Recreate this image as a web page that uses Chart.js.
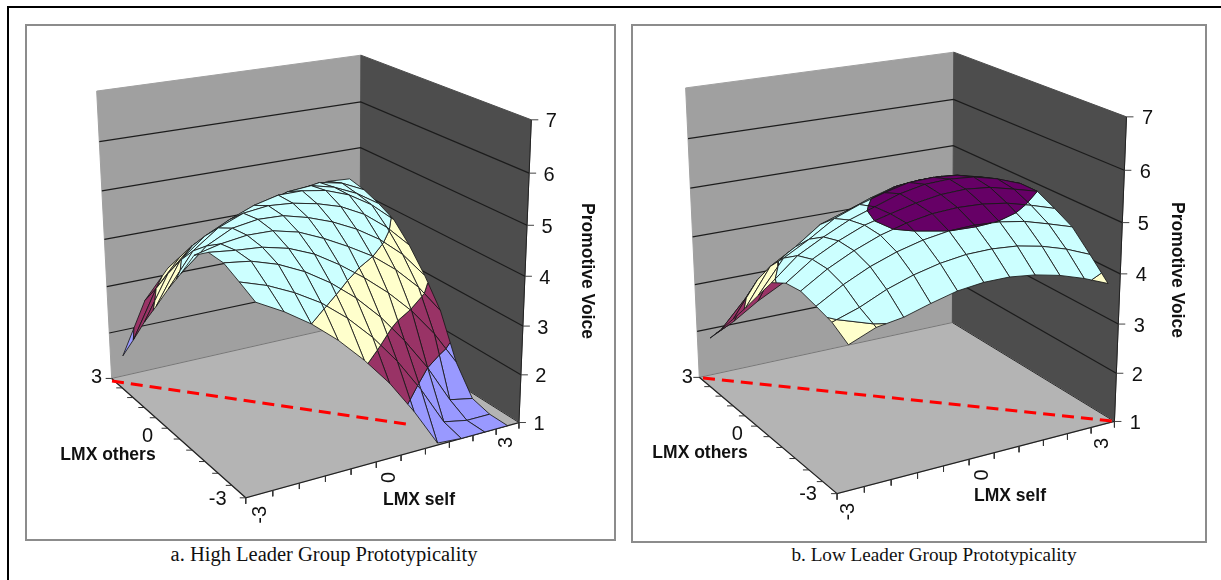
<!DOCTYPE html>
<html><head><meta charset="utf-8">
<script src="https://cdn.jsdelivr.net/npm/chart.js@4"></script>
<style>
html,body{margin:0;padding:0;background:#fff;width:1221px;height:580px;overflow:hidden}
#frame{position:absolute;left:7px;top:6px;width:1214px;height:574px;border-left:2px solid #000;border-top:2px solid #000;box-sizing:border-box}
.panel{position:absolute;box-sizing:border-box;border:2px solid #8c8c8c}
canvas{position:absolute}
.cap{position:absolute;font-family:"Liberation Serif",serif;color:#111;white-space:nowrap;transform:translateX(-50%);top:543px}
</style></head><body>
<div id="frame"></div>
<div class="panel" style="left:25px;top:24px;width:591px;height:517px"></div>
<div class="panel" style="left:631px;top:24px;width:576px;height:519px"></div>
<canvas id="ca" width="585" height="511" style="left:27px;top:26px"></canvas>
<canvas id="cb" width="570" height="513" style="left:633px;top:26px"></canvas>
<div class="cap" style="left:324px;font-size:20.5px">a. High Leader Group Prototypicality</div>
<div class="cap" style="left:934px;font-size:19.2px;top:544px">b. Low Leader Group Prototypicality</div>
<script>
const lmxSelf   = [-3,-2.4,-1.8,-1.2,-0.6,0,0.6,1.2,1.8,2.4,3];
const lmxOthers = [-3,-2.4,-1.8,-1.2,-0.6,0,0.6,1.2,1.8,2.4,3];
const voiceTicks = [1,2,3,4,5,6,7];
const lmxTickLabels = ['-3','0','3'];
const bandEdges  = [1,2,3,4,5,6];
const bandColors = ['#9999FF','#993366','#FFFFCC','#CCFFFF','#660066'];

// rows: LMX others -3 .. 3; columns: LMX self -3 .. 3
const voiceHigh = [
 [4.62,4.34,4.00,3.58,3.08,2.51,1.82,1.04,1.00,1.00,1.00],
 [4.79,4.62,4.38,4.08,3.68,3.19,2.60,1.90,1.10,1.00,1.00],
 [4.95,4.88,4.72,4.48,4.16,3.76,3.27,2.68,2.00,1.20,1.10],
 [4.96,4.90,4.86,4.74,4.53,4.22,3.86,3.45,2.97,2.38,1.66],
 [4.72,4.84,4.91,4.90,4.78,4.56,4.30,4.01,3.63,3.16,2.55],
 [4.18,4.62,4.87,4.95,4.93,4.80,4.62,4.38,4.07,3.66,3.11],
 [3.68,4.34,4.70,4.90,4.96,4.92,4.82,4.67,4.42,4.05,3.58],
 [3.13,3.96,4.36,4.60,4.80,4.92,4.92,4.84,4.66,4.36,3.95],
 [2.60,3.50,3.98,4.22,4.38,4.58,4.74,4.78,4.66,4.44,4.13],
 [2.01,3.00,3.56,3.85,4.04,4.20,4.40,4.52,4.60,4.50,4.27],
 [1.44,2.54,3.14,3.45,3.60,3.81,4.02,4.19,4.30,4.38,4.35]
];
const voiceLow = [
 [3.76,3.97,4.05,4.20,4.33,4.39,4.39,4.33,4.22,4.06,3.86],
 [3.97,4.14,4.37,4.54,4.66,4.73,4.74,4.70,4.60,4.45,4.25],
 [4.07,4.37,4.61,4.79,4.92,5.00,5.02,4.99,4.91,4.77,4.62],
 [4.16,4.48,4.73,4.93,5.07,5.16,5.19,5.17,5.10,4.97,4.82],
 [4.12,4.48,4.74,4.95,5.08,5.20,5.28,5.30,5.25,5.13,5.00],
 [3.94,4.37,4.64,4.88,5.05,5.22,5.32,5.34,5.30,5.18,5.00],
 [3.50,4.14,4.42,4.74,4.93,5.08,5.20,5.22,5.18,5.06,4.90],
 [3.05,3.79,4.09,4.45,4.62,4.80,4.95,5.00,5.00,4.88,4.72],
 [2.62,3.33,3.63,3.92,4.15,4.36,4.52,4.58,4.60,4.50,4.35],
 [2.20,2.75,3.07,3.30,3.55,3.80,3.99,4.05,4.08,4.00,3.88],
 [1.80,2.06,2.39,2.66,2.92,3.15,3.33,3.40,3.44,3.40,3.30]
];

// Camera calibration: where the box corners fall on the page
const cornersHigh = {A0:[112,381],B0:[245,496],C0:[519,424],D0:[360,320],A1:[97,90],C1:[532,120],D1:[360,56]};
const cornersLow  = {A0:[699,377],B0:[837,494],C0:[1114,421],D0:[953,323],A1:[686,88],C1:[1127,117],D1:[953,52]};

function solveCamera(c){
  const w={A0:[0,1,0],B0:[0,0,0],C0:[1,0,0],D0:[1,1,0],A1:[0,1,1],C1:[1,0,1],D1:[1,1,1]};
  const N=Array.from({length:11},()=>new Array(12).fill(0));
  const add=(r,b)=>{for(let i=0;i<11;i++){for(let j=0;j<11;j++)N[i][j]+=r[i]*r[j];N[i][11]+=r[i]*b;}};
  for(const k in w){const [x,y,z]=w[k],[X,Y]=c[k];
    add([x,y,z,1,0,0,0,0,-X*x,-X*y,-X*z],X);
    add([0,0,0,0,x,y,z,1,-Y*x,-Y*y,-Y*z],Y);}
  for(let i=0;i<11;i++){let p=i;for(let r=i+1;r<11;r++)if(Math.abs(N[r][i])>Math.abs(N[p][i]))p=r;
    [N[i],N[p]]=[N[p],N[i]];
    for(let r=0;r<11;r++){if(r===i)continue;const f=N[r][i]/N[i][i];for(let j=i;j<12;j++)N[r][j]-=f*N[i][j];}}
  const m=N.map((r,i)=>r[11]/r[i]);
  return (u,v,t)=>{const d=m[8]*u+m[9]*v+m[10]*t+1;
    return {x:(m[0]*u+m[1]*v+m[2]*t+m[3])/d,y:(m[4]*u+m[5]*v+m[6]*t+m[7])/d};};
}

function clipBand(poly,lo,hi){
  const clip=(pts,keep,level)=>{const out=[];
    for(let i=0;i<pts.length;i++){const a=pts[i],b=pts[(i+1)%pts.length];
      const ka=keep(a.z),kb=keep(b.z);
      if(ka)out.push(a);
      if(ka!==kb){const t=(level-a.z)/(b.z-a.z);
        out.push({u:a.u+t*(b.u-a.u),v:a.v+t*(b.v-a.v),z:level});}}
    return out;};
  let p=clip(poly,z=>z>=lo,lo);
  if(p.length)p=clip(p,z=>z<=hi,hi);
  return p;
}

function buildPanel(canvasId,bounds,corners,voice,red,text){
  const project=solveCamera(corners);
  const P=(u,v,z)=>project(u,v,(z-1)/6);
  const sets=[];
  const shape=(pts,fill,stroke,bw)=>sets.push({data:[...pts,pts[0]],showLine:true,pointRadius:0,tension:0,
     fill:'shape',backgroundColor:fill,borderColor:stroke,borderWidth:bw,borderJoinStyle:'round'});
  const line=(pts,color,bw,dash)=>sets.push({data:pts,showLine:true,pointRadius:0,tension:0,fill:false,
     borderColor:color,borderWidth:bw,borderDash:dash||[]});
  const zMin=voiceTicks[0],zMax=voiceTicks[voiceTicks.length-1];
  // walls and floor
  shape([P(0,1,zMin),P(1,1,zMin),P(1,1,zMax),P(0,1,zMax)],'#A0A0A0','#A0A0A0',1);
  shape([P(1,1,zMin),P(1,0,zMin),P(1,0,zMax),P(1,1,zMax)],'#4D4D4D','#4D4D4D',1);
  shape([P(0,1,zMin),P(0,0,zMin),P(1,0,zMin),P(1,1,zMin)],'#B4B4B4','#B4B4B4',1);
  line([P(0,1,zMin),P(1,1,zMin)],'#777',1);
  line([P(1,1,zMin),P(1,0,zMin)],'#2a2a2a',1);
  line([P(0,1,zMin),P(0,0,zMin),P(1,0,zMin)],'#222',1.3);
  line([P(1,0,zMin),P(1,0,zMax)],'#222',1);
  voiceTicks.slice(1,-1).forEach(z=>{
    line([P(0,1,z),P(1,1,z),P(1,0,z)],'#1c1c1c',1.2);
  });
  // axis ticks
  voiceTicks.forEach(z=>{const a=P(1,0,z);line([a,{x:a.x+7,y:a.y}],'#444',1);});
  const n=lmxSelf.length;
  for(let k=0;k<=n;k++){
    const a=P(k/n,0,zMin);line([a,{x:a.x,y:a.y+6}],'#333',1);
    const b=P(0,k/n,zMin);line([b,{x:b.x-6,y:b.y}],'#333',1);
  }
  // surface, painted from the far corner to the near corner
  const posU=i=>(i+0.5)/n, posV=j=>j/(n-1);
  for(let j=n-2;j>=0;j--){
    for(let i=n-2;i>=0;i--){
      const quad=[[i,j],[i+1,j],[i+1,j+1],[i,j+1]].map(([a,b])=>({u:posU(a),v:posV(b),z:voice[b][a]}));
      bandColors.forEach((col,b)=>{
        const piece=clipBand(quad,bandEdges[b],bandEdges[b+1]);
        if(piece.length>2)shape(piece.map(q=>P(q.u,q.v,q.z)),col,'rgba(25,25,25,0.85)',1);
      });
    }
  }
  line(red.map(([x,y])=>({x,y})),'#FF0000',3,[12,7]);

  const labels={id:'labels',afterDatasetsDraw(chart){
    const c=chart.ctx,sx=chart.scales.x,sy=chart.scales.y;
    const put=(s,x,y,font,rot)=>{c.save();c.translate(sx.getPixelForValue(x),sy.getPixelForValue(y));
      if(rot)c.rotate(rot);c.font=font;c.fillStyle='#111';c.textAlign='center';c.textBaseline='middle';
      c.fillText(s,0,0);c.restore();};
    const tf='20px "Liberation Sans",sans-serif',bf='bold 17.5px "Liberation Sans",sans-serif';
    voiceTicks.forEach(z=>{const a=P(1,0,z);put(String(z),a.x+text.zdx,a.y+2,tf);});
    lmxTickLabels.forEach((s,i)=>{
      const f=i/2;
      const b=P(0,f,zMin);put(s,b.x+text.oth[i][0],b.y+text.oth[i][1],tf);
      const a=P(f,0,zMin);put(s,a.x+text.slf[i][0],a.y+text.slf[i][1],tf,-Math.PI/2);
    });
    put('Promotive Voice',text.pv[0],text.pv[1],bf,Math.PI/2);
    put('LMX others',text.lo[0],text.lo[1],bf);
    put('LMX self',text.ls[0],text.ls[1],bf);
  }};

  sets.reverse();
  new Chart(document.getElementById(canvasId),{
    type:'scatter',data:{datasets:sets},plugins:[labels],
    options:{responsive:false,animation:false,events:[],parsing:false,normalized:false,
      layout:{padding:0},
      plugins:{legend:{display:false},title:{display:false},tooltip:{enabled:false},filler:{propagate:false}},
      elements:{line:{capBezierPoints:false}},
      scales:{
        x:{type:'linear',display:false,min:bounds.l,max:bounds.l+bounds.w},
        y:{type:'linear',display:false,min:bounds.t,max:bounds.t+bounds.h,reverse:true}
      }}});
}

buildPanel('ca',{l:27,t:26,w:585,h:511},cornersHigh,voiceHigh,[[112,381],[412,425]],
  {zdx:20,oth:[[-28,2],[-26,3],[-15,-1]],slf:[[15,17],[1,19],[-12,20]],pv:[587,271],lo:[108,455],ls:[419,500]});
buildPanel('cb',{l:633,t:26,w:570,h:513},cornersLow,voiceLow,[[703,378],[1112,421]],
  {zdx:21,oth:[[-29,1],[-26,3],[-12,0]],slf:[[11,18],[1,19],[-12,22]],pv:[1177,270],lo:[700,453],ls:[1010,496]});
</script>
</body></html>
